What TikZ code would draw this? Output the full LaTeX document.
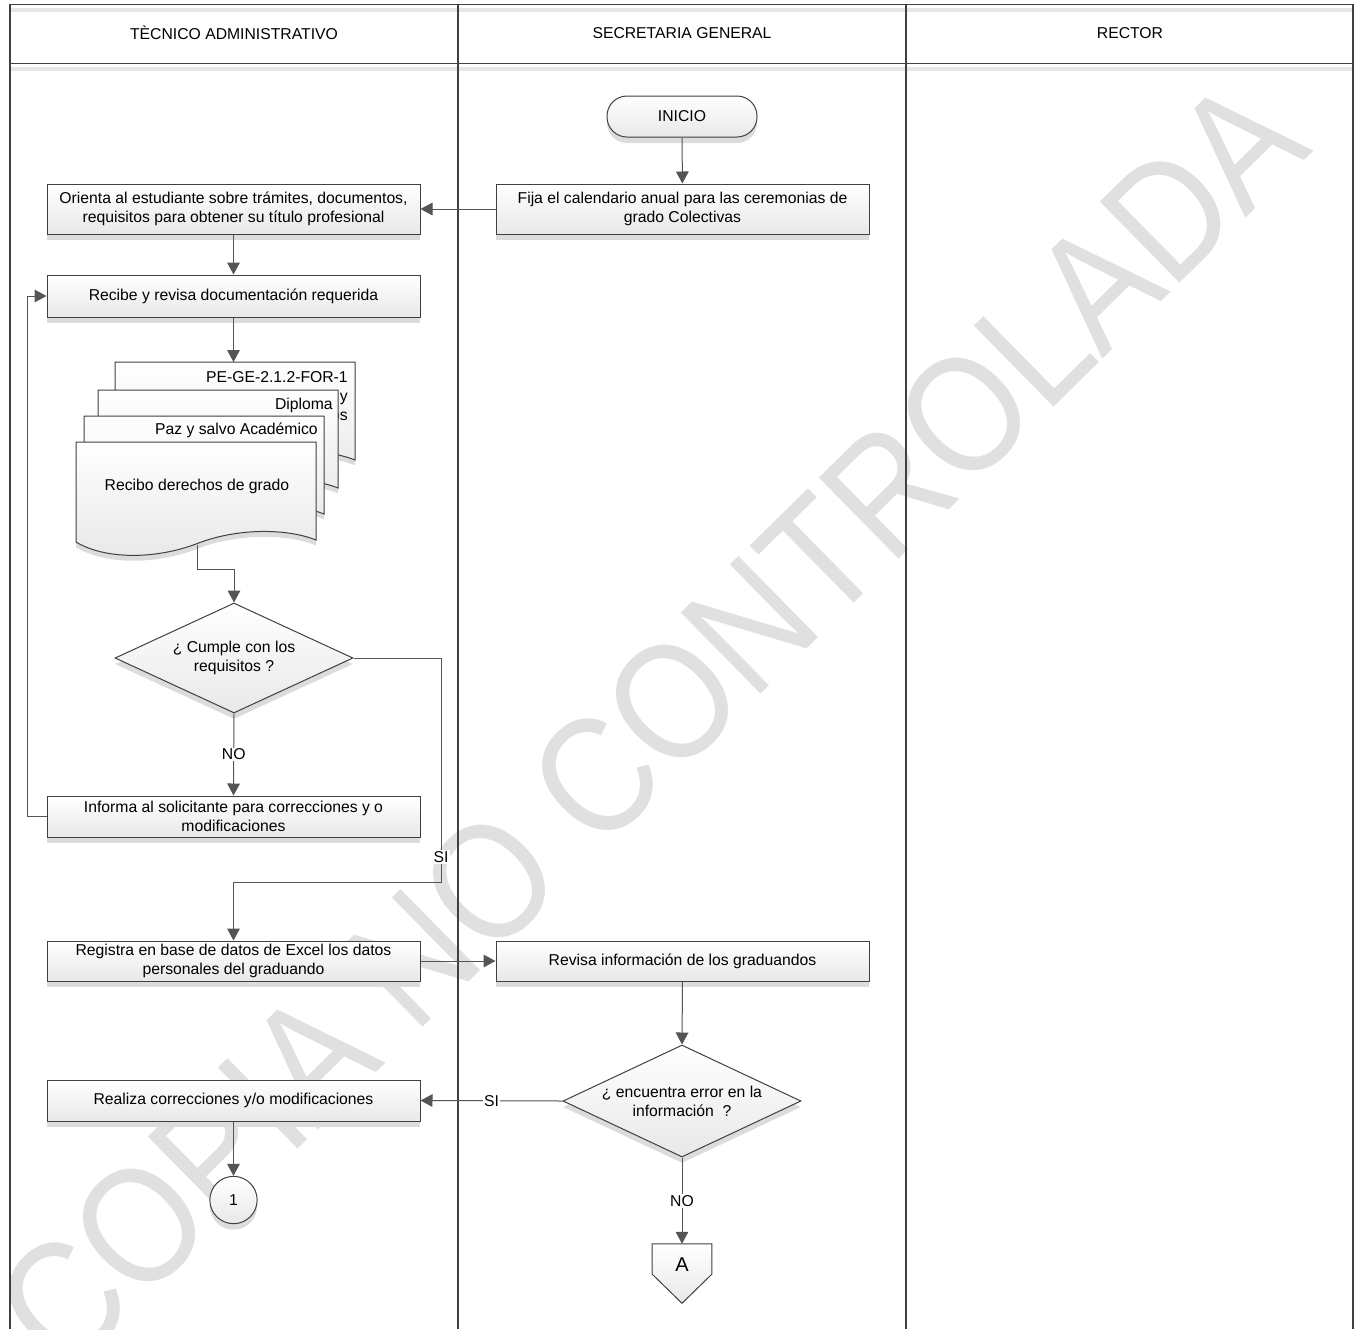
\documentclass[tikz,border=0pt]{standalone}
\usepackage{fontspec}
\usepackage{graphicx}
\setmainfont{Liberation Sans}
\usetikzlibrary{shapes.geometric,shadows,arrows.meta,calc}
\definecolor{lineC}{HTML}{555555}
\definecolor{borderC}{HTML}{404040}
\definecolor{wmC}{HTML}{E0E0E0}
\definecolor{shadowC}{HTML}{DCDCDC}
\definecolor{hdrShade}{HTML}{E6E6E6}
\tikzset{
  shd/.style={preaction={fill=shadowC, transform canvas={yshift=-4.5pt}}},
  proc/.style={shd, draw=borderC, line width=0.75pt, top color=white, bottom color=black!9,
    minimum width=279.75pt, align=center, inner xsep=2pt, inner ysep=0pt},
  term/.style={shd, draw=borderC, line width=0.75pt, top color=white, bottom color=black!9,
    rounded corners=15pt, minimum width=112.5pt, minimum height=30.75pt},
  decis/.style={shd, diamond, aspect=2.16, draw=borderC, line width=0.75pt, top color=white, bottom color=black!9,
    minimum width=178.5pt, minimum height=82.5pt, inner sep=0pt, align=center},
  conn/.style={shd, circle, draw=borderC, line width=0.75pt, top color=white, bottom color=black!9,
    minimum size=35.5pt, inner sep=0pt},
  docshp/.style={draw=borderC, line width=0.75pt, top color=white, bottom color=black!9},
  arr/.style={draw=lineC, line width=0.75pt, -{Triangle[length=9pt,width=9.5pt]}},
  lbl/.style={fill=white, inner sep=1pt},
  hdr/.style={inner sep=0pt},
  wmark/.style={text=wmC, inner sep=0pt, font=\fontsize{124}{124}\selectfont},
}
\newcommand\mydocpath[2]{(#1,#2) -- ++(240,0) -- ++(0,98)
  .. controls ++(-30,-12) and ++(40,-16) .. ++(-120,4)
  .. controls ++(-40,15) and ++(30,18) .. ++(-120,-2) -- cycle}
\begin{document}
\begin{tikzpicture}[x=0.75pt,y=-0.75pt,font=\fontsize{11.8}{14.3}\selectfont]
\useasboundingbox (0,0) rectangle (1361,1329);

% watermark
\node[wmark, rotate=44.5] (wm) at (650,724) {\scalebox{0.875}[1]{COPIA NO CONTROLADA}};

% swimlane frame
\draw[hdrShade, line width=3pt] (10,10) -- (1353,10);
\draw[hdrShade, line width=3pt] (10,69) -- (1353,69);
\draw[borderC, line width=1.2pt] (10,4.5) -- (1353,4.5);
\draw[borderC, line width=1.2pt] (10,63.5) -- (1353,63.5);
\foreach \xx in {10,458,906,1353} {\draw[borderC, line width=0.9pt] (\xx,4) -- (\xx,1329);}
\node[hdr] (h1) at (234,33) {TÈCNICO ADMINISTRATIVO};
\node[hdr] (h2) at (682,33) {SECRETARIA GENERAL};
\node[hdr] (h3) at (1130,33) {RECTOR};

% nodes
\node[term] (inicio) at (682,116.5) {INICIO};
\node[proc, minimum height=37.5pt] (fija) at (682.5,209) {Fija el calendario anual para las ceremonias de\\grado Colectivas};
\node[proc, minimum height=37.5pt] (orienta) at (233.5,209) {Orienta al estudiante sobre trámites, documentos,\\requisitos para obtener su título profesional};
\node[proc, minimum height=31.5pt] (recibe) at (233.5,296) {Recibe y revisa documentación requerida};

% document stack
\fill[shadowC] [yshift=-4pt] \mydocpath{115}{362};
\path[docshp] \mydocpath{115}{362};
\node[anchor=north east, align=right, inner sep=0pt] (docpe) at (348,371) {PE-GE-2.1.2-FOR-1\\y\\os};
\fill[shadowC] [yshift=-4pt] \mydocpath{98}{390};
\path[docshp] \mydocpath{98}{390};
\node[anchor=east, inner sep=0pt] (docdip) at (333,405) {Diploma};
\fill[shadowC] [yshift=-4pt] \mydocpath{84}{416};
\path[docshp] \mydocpath{84}{416};
\node[anchor=east, inner sep=0pt] (docpaz) at (318,430) {Paz y salvo Académico};
\fill[shadowC] [yshift=-4pt] \mydocpath{76}{442};
\path[docshp] \mydocpath{76}{442};
\node[inner sep=0pt] (docrec) at (197,486) {Recibo derechos de grado};
\coordinate (doctop) at (233.5,362);
\coordinate (docbot) at (197,545);

\node[decis] (dec1) at (234,658) {¿ Cumple con los\\requisitos ?};
\node[proc, minimum height=30.75pt] (informa) at (233.5,816.5) {Informa al solicitante para correcciones y o\\modificaciones};
\node[proc, minimum height=30pt] (registra) at (233.5,961) {Registra en base de datos de Excel los datos\\personales del graduando};
\node[proc, minimum height=30pt] (revisa) at (682.5,961) {Revisa información de los graduandos};
\node[decis, minimum height=84pt] (dec2) at (682,1101) {¿ encuentra error en la\\información \ ?};
\node[proc, minimum height=30.75pt] (realiza) at (233.5,1100.5) {Realiza correcciones y/o modificaciones};
\node[conn] (c1) at (233.5,1200) {1};

% off-page connector A
\node[minimum width=44.25pt, minimum height=22.5pt, inner sep=0pt] (offA) at (682,1259) {};
\fill[shadowC] [yshift=-4pt] (offA.north west) -- (offA.north east) -- (offA.south east) -- ($(offA.south)+(0,29)$) -- (offA.south west) -- cycle;
\path[docshp] (offA.north west) -- (offA.north east) -- (offA.south east) -- ($(offA.south)+(0,29)$) -- (offA.south west) -- cycle;
\node (offAlbl) at ($(offA.center)+(0,6)$) {\fontsize{15}{16}\selectfont A};

% connectors
\coordinate (loopL) at (27,816.5);
\coordinate (siTop) at (441,658);
\coordinate (siBot) at (441,882);
\draw[arr] (inicio) -- (fija);
\draw[arr] (fija.west) -- (orienta.east);
\draw[arr] (orienta) -- (recibe);
\draw[arr] (recibe) -- (doctop);
\draw[arr] (docbot) -- ++(0,24) -| (dec1.north);
\draw[arr] (dec1.south) -- node[lbl]{NO} (informa.north);
\draw[arr] (informa.west) -- (loopL) |- (recibe.west);
\draw[arr] (dec1.east) -- (siTop) -- node[lbl, pos=0.89]{SI} (siBot) -| (registra.north);
\draw[arr] (registra.east) -- (revisa.west);
\draw[arr] (revisa.south) -- (dec2.north);
\draw[arr] (dec2.west) -- node[lbl]{SI} (realiza.east);
\draw[arr] (realiza.south) -- (c1.north);
\draw[arr] (dec2.south) -- node[lbl]{NO} (offA.north);
\end{tikzpicture}
\end{document}
